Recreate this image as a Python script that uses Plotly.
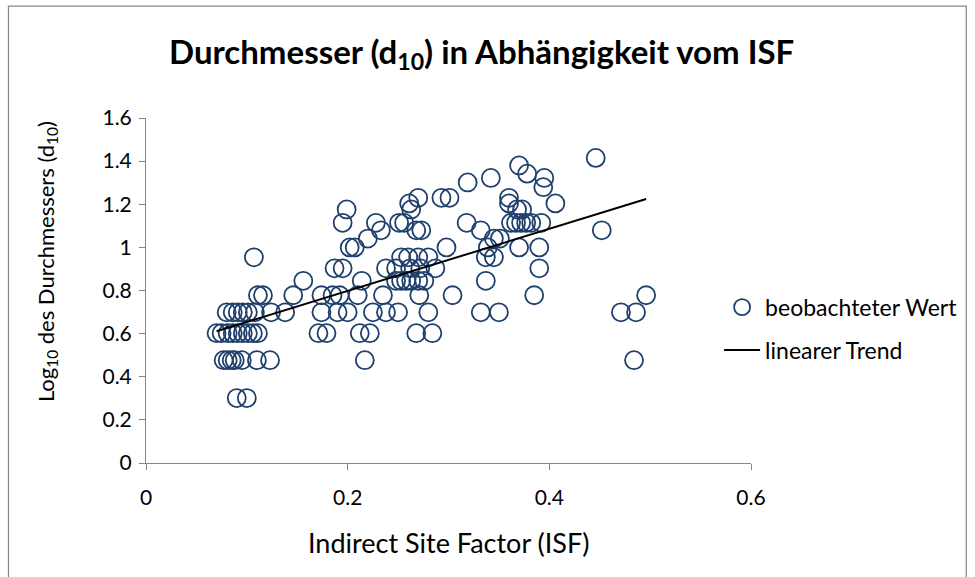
import plotly.graph_objects as go

isf = [
    0.090, 0.100,
    0.077, 0.081, 0.085, 0.088, 0.095, 0.110, 0.123, 0.217, 0.484,
    0.070, 0.075, 0.081, 0.086, 0.091, 0.096, 0.101, 0.106, 0.111, 0.171, 0.179, 0.212, 0.222, 0.268, 0.284,
    0.080, 0.086, 0.091, 0.096, 0.101, 0.108, 0.124, 0.138, 0.174, 0.190, 0.200, 0.225, 0.238, 0.250, 0.280, 0.332, 0.350, 0.471, 0.486,
    0.111, 0.116, 0.146, 0.174, 0.185, 0.192, 0.210, 0.235, 0.271, 0.304, 0.385, 0.496,
    0.156, 0.214, 0.248, 0.253, 0.258, 0.263, 0.270, 0.276, 0.337,
    0.187, 0.195, 0.238, 0.248, 0.262, 0.272, 0.287, 0.390,
    0.107, 0.253, 0.260, 0.270, 0.280, 0.337, 0.345,
    0.202, 0.207, 0.298, 0.339, 0.370, 0.390,
    0.220, 0.345, 0.351,
    0.233, 0.268, 0.273, 0.332, 0.452,
    0.195, 0.228, 0.251, 0.256, 0.318, 0.362, 0.367, 0.372, 0.377, 0.382, 0.392,
    0.199, 0.263, 0.368, 0.373,
    0.261, 0.360, 0.406,
    0.270, 0.293, 0.301, 0.360,
    0.394,
    0.319,
    0.342, 0.395,
    0.378,
    0.370,
    0.446,
]
log_d10 = [
    0.301, 0.301,
    0.477, 0.477, 0.477, 0.477, 0.477, 0.477, 0.477, 0.477, 0.477,
    0.602, 0.602, 0.602, 0.602, 0.602, 0.602, 0.602, 0.602, 0.602, 0.602, 0.602, 0.602, 0.602, 0.602, 0.602,
    0.699, 0.699, 0.699, 0.699, 0.699, 0.699, 0.699, 0.699, 0.699, 0.699, 0.699, 0.699, 0.699, 0.699, 0.699, 0.699, 0.699, 0.699, 0.699,
    0.778, 0.778, 0.778, 0.778, 0.778, 0.778, 0.778, 0.778, 0.778, 0.778, 0.778, 0.778,
    0.845, 0.845, 0.845, 0.845, 0.845, 0.845, 0.845, 0.845, 0.845,
    0.903, 0.903, 0.903, 0.903, 0.903, 0.903, 0.903, 0.903,
    0.954, 0.954, 0.954, 0.954, 0.954, 0.954, 0.954,
    1.000, 1.000, 1.000, 1.000, 1.000, 1.000,
    1.041, 1.041, 1.041,
    1.079, 1.079, 1.079, 1.079, 1.079,
    1.114, 1.114, 1.114, 1.114, 1.114, 1.114, 1.114, 1.114, 1.114, 1.114, 1.114,
    1.176, 1.176, 1.176, 1.176,
    1.204, 1.204, 1.204,
    1.230, 1.230, 1.230, 1.230,
    1.279,
    1.301,
    1.322, 1.322,
    1.342,
    1.380,
    1.415,
]

# Linear trend endpoints
trend_x = [0.070, 0.496]
trend_y = [0.611, 1.224]

x_ticks = [0, 0.2, 0.4, 0.6]
y_ticks = [0, 0.2, 0.4, 0.6, 0.8, 1.0, 1.2, 1.4, 1.6]

FONT = "Lato"
AXIS_GREY = "#868686"
MARKER_BLUE = "#1F3F6C"

fig = go.Figure()
fig.add_trace(go.Scatter(
    x=isf, y=log_d10, mode="markers", name="beobachteter Wert",
    legendgroup="a",
    marker=dict(symbol="circle-open", size=18, color=MARKER_BLUE,
                line=dict(width=1.8, color=MARKER_BLUE)),
))
fig.add_trace(go.Scatter(
    x=trend_x, y=trend_y, mode="lines", name="linearer Trend",
    legendgroup="b",
    line=dict(color="black", width=2),
))

L, R, T, B = 146, 753, 118, 463.5
W, H = 975, 577
pw, ph = R - L, B - T

def px2paper_x(px):
    return (px - L) / pw

def px2paper_y(py):
    return (B - py) / ph

fig.update_layout(
    width=W, height=H,
    margin=dict(l=L, r=W - R, t=T, b=H - B, pad=0),
    paper_bgcolor="white", plot_bgcolor="white",
    font=dict(family=FONT, size=21, color="black"),
    title=dict(
        text="<b>Durchmesser (d<sub>10</sub>) in Abhängigkeit vom ISF</b>",
        x=0.494, xanchor="center", xref="container",
        y=1 - 52 / H, yanchor="middle", yref="container",
        font=dict(family=FONT, size=33, color="black"),
    ),
    xaxis=dict(
        range=[0, 0.6], tickvals=x_ticks, ticktext=[f"{v:g}" for v in x_ticks],
        showline=True, linecolor=AXIS_GREY, linewidth=1,
        ticks="outside", ticklen=6, tickcolor=AXIS_GREY, tickwidth=1,
        ticklabelstandoff=10,
        showgrid=False, zeroline=False,
        tickfont=dict(family=FONT, size=21, color="black"),
    ),
    yaxis=dict(
        range=[0, 1.6], tickvals=y_ticks, ticktext=[f"{v:g}" for v in y_ticks],
        showline=True, linecolor=AXIS_GREY, linewidth=1,
        ticks="outside", ticklen=6, tickcolor=AXIS_GREY, tickwidth=1,
        ticklabelstandoff=3,
        showgrid=False, zeroline=False,
        tickfont=dict(family=FONT, size=21, color="black"),
    ),
    legend=dict(
        x=px2paper_x(721), xanchor="left",
        y=px2paper_y(329), yanchor="middle",
        font=dict(family=FONT, size=23, color="black"),
        bgcolor="rgba(0,0,0,0)",
        traceorder="grouped", tracegroupgap=10,
        itemwidth=36,
    ),
    showlegend=True,
    annotations=[
        dict(text="Indirect Site Factor (ISF)", xref="paper", yref="paper",
             x=0.5, y=px2paper_y(543), xanchor="center", yanchor="middle",
             showarrow=False, font=dict(family=FONT, size=27, color="black")),
        dict(text="Log<sub>10</sub> des Durchmessers (d<sub>10</sub>)",
             xref="paper", yref="paper",
             x=px2paper_x(46), y=px2paper_y(262), xanchor="center", yanchor="middle",
             textangle=-90, showarrow=False,
             font=dict(family=FONT, size=22, color="black")),
    ],
    shapes=[
        dict(type="rect", xref="paper", yref="paper",
             x0=px2paper_x(8), x1=px2paper_x(969),
             y0=px2paper_y(590), y1=px2paper_y(6),
             line=dict(color=AXIS_GREY, width=1.2), fillcolor="rgba(0,0,0,0)",
             layer="below"),
    ],
)

fig.write_html(
    "out.html",
    config={"displayModeBar": False},
    post_script="document.body.style.margin='0';document.body.style.overflow='hidden';",
)
